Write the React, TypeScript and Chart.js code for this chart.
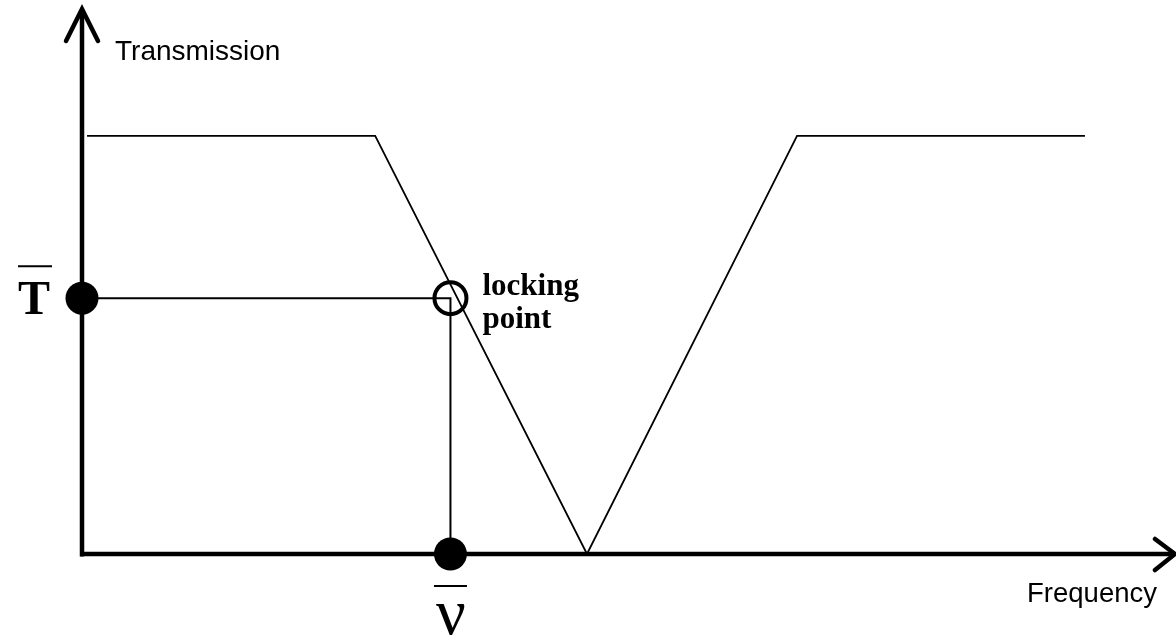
import React, { useEffect, useRef } from "react";
import { Chart, registerables } from "chart.js";

Chart.register(...registerables);

// Transmission curve (frequency in arbitrary units, transmission normalised to 1)
const curveFreq = [0.46, 26.8, 46.16, 65.36, 91.68];
const curveTrans = [1, 1, 0, 1, 1];

// Locking point
const lockFreq = 33.68; // ν̄
const lockTrans = 0.612; // T̄

const xMax = 100;
const yMax = 1.306;

const axisLabels = { y: "Transmission", x: "Frequency" };
const lockLabel = ["locking", "point"];

const overlayPlugin = {
  id: "overlay",
  beforeDatasetsDraw(chart: any) {
    const ctx = chart.ctx;
    const xs = chart.scales.x;
    const ys = chart.scales.y;
    const x0 = xs.getPixelForValue(0);
    const y0 = ys.getPixelForValue(0);
    const top = ys.getPixelForValue(yMax);
    const right = xs.getPixelForValue(xMax);
    ctx.save();
    ctx.strokeStyle = "#000";
    ctx.lineWidth = 4.5;
    ctx.lineCap = "butt";
    // y axis
    ctx.beginPath();
    ctx.moveTo(x0, y0 + 2.5);
    ctx.lineTo(x0, top + 2);
    ctx.stroke();
    // x axis
    ctx.beginPath();
    ctx.moveTo(x0 - 2, y0);
    ctx.lineTo(right - 2, y0);
    ctx.stroke();
    // arrowheads
    ctx.lineCap = "round";
    ctx.lineJoin = "miter";
    ctx.beginPath();
    ctx.moveTo(x0 - 16, top + 33);
    ctx.lineTo(x0, top + 1);
    ctx.lineTo(x0 + 16, top + 33);
    ctx.stroke();
    ctx.beginPath();
    ctx.moveTo(right - 21, y0 - 15);
    ctx.lineTo(right - 1, y0);
    ctx.lineTo(right - 21, y0 + 16);
    ctx.stroke();
    ctx.restore();
  },
  afterDatasetsDraw(chart: any) {
    const ctx = chart.ctx;
    const xs = chart.scales.x;
    const ys = chart.scales.y;
    const x0 = xs.getPixelForValue(0);
    const y0 = ys.getPixelForValue(0);
    const top = ys.getPixelForValue(yMax);
    const right = xs.getPixelForValue(xMax);
    const lx = xs.getPixelForValue(lockFreq);
    const ly = ys.getPixelForValue(lockTrans);
    ctx.save();
    ctx.fillStyle = "#000";
    ctx.strokeStyle = "#000";
    ctx.textBaseline = "alphabetic";
    ctx.textAlign = "left";
    // axis titles
    ctx.font = "28px 'Liberation Sans', Arial, sans-serif";
    ctx.fillText(axisLabels.y, x0 + 33, top + 52);
    ctx.font = "27.5px 'Liberation Sans', Arial, sans-serif";
    ctx.textAlign = "right";
    ctx.fillText(axisLabels.x, right - 19, y0 + 48);
    // T bar
    ctx.textAlign = "left";
    ctx.font = "bold 48px 'Liberation Serif', 'Times New Roman', serif";
    ctx.fillText("T", x0 - 64, ly + 16);
    ctx.lineWidth = 2;
    ctx.beginPath();
    ctx.moveTo(x0 - 64, ly - 32);
    ctx.lineTo(x0 - 30, ly - 32);
    ctx.stroke();
    // nu bar
    ctx.textAlign = "center";
    ctx.font = "66px 'Liberation Serif', 'Times New Roman', serif";
    ctx.fillText("ν", lx + 0.5, y0 + 80);
    ctx.beginPath();
    ctx.moveTo(lx - 16.5, y0 + 32);
    ctx.lineTo(lx + 16.5, y0 + 32);
    ctx.stroke();
    // locking point label
    ctx.textAlign = "left";
    ctx.font = "bold 31px 'Liberation Serif', 'Times New Roman', serif";
    ctx.fillText(lockLabel[0], lx + 32, ly - 3);
    ctx.fillText(lockLabel[1], lx + 32, ly + 30);
    ctx.restore();
  },
};

export default function App() {
  const ref = useRef<HTMLCanvasElement | null>(null);
  useEffect(() => {
    document.body.style.margin = "0";
    const canvas = ref.current;
    if (!canvas) return;
    const chart = new Chart(canvas, {
      type: "scatter",
      data: {
        datasets: [
          {
            label: "transmission",
            data: curveFreq.map((f, i) => ({ x: f, y: curveTrans[i] })),
            showLine: true,
            borderColor: "#000",
            borderWidth: 1.8,
            pointRadius: 0,
            clip: false as any,
          },
          {
            label: "guides",
            data: [
              { x: 0, y: lockTrans },
              { x: lockFreq, y: lockTrans },
              { x: lockFreq, y: 0 },
            ],
            showLine: true,
            borderColor: "#000",
            borderWidth: 2,
            pointRadius: 0,
            clip: false as any,
          },
          {
            label: "projections",
            data: [
              { x: 0, y: lockTrans },
              { x: lockFreq, y: 0 },
            ],
            showLine: false,
            pointRadius: 16.5,
            pointBackgroundColor: "#000",
            pointBorderColor: "#000",
            pointBorderWidth: 0,
            clip: false as any,
          },
          {
            label: "locking point",
            data: [{ x: lockFreq, y: lockTrans }],
            showLine: false,
            pointRadius: 16,
            pointBackgroundColor: "rgba(0,0,0,0)",
            pointBorderColor: "#000",
            pointBorderWidth: 4,
            clip: false as any,
          },
        ],
      },
      options: {
        animation: false,
        responsive: false,
        devicePixelRatio: 1,
        layout: { autoPadding: false, padding: { left: 82, right: 0, top: 8, bottom: 82 } },
        plugins: {
          legend: { display: false },
          tooltip: { enabled: false },
          title: { display: false },
        },
        scales: {
          x: { type: "linear", min: 0, max: xMax, display: false },
          y: { type: "linear", min: 0, max: yMax, display: false },
        },
      },
      plugins: [overlayPlugin],
    });
    return () => chart.destroy();
  }, []);
  return (
    <div style={{ position: "fixed", left: 0, top: 0, width: 1176, height: 636, background: "#fff" }}>
      <canvas ref={ref} width={1176} height={636} style={{ display: "block" }} />
    </div>
  );
}
